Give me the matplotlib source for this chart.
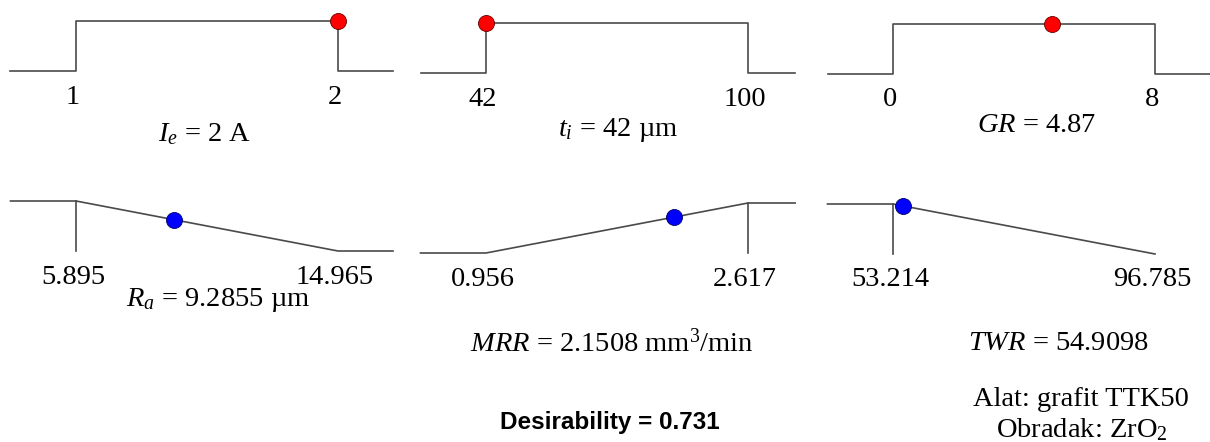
import matplotlib
matplotlib.use("Agg")
import matplotlib.pyplot as plt

plt.rcParams['font.family'] = ['Liberation Serif', 'DejaVu Serif']
plt.rcParams['mathtext.fontset'] = 'custom'
plt.rcParams['mathtext.rm'] = 'Liberation Serif'
plt.rcParams['mathtext.it'] = 'Liberation Serif:italic'

# factors (top row): low, high, optimum setting
factor_low = [1, 42, 0]
factor_high = [2, 100, 8]
factor_value = [2, 42, 4.87]
factor_low_labels = ["1", "42", "0"]
factor_high_labels = ["2", "100", "8"]
factor_titles = ["$I_e$ = 2 A", "$t_i$ = 42 µm", "$GR$ = 4.87"]

# responses (bottom row)
resp_low = [5.895, 0.956, 53.214]
resp_high = [14.965, 2.617, 96.785]
resp_value = [9.2855, 2.1508, 54.9098]
resp_goal = ["min", "max", "min"]
resp_low_labels = ["5.895", "0.956", "53.214"]
resp_high_labels = ["14.965", "2.617", "96.785"]
resp_titles = ["$R_a$ = 9.2855 µm", "$MRR$ = 2.1508 mm$^3$/min", "$TWR$ = 54.9098"]

W, H = 1210, 442
fig = plt.figure(figsize=(W / 100, H / 100), dpi=100)

low_px = [76, 486, 893]      # where the low limit sits in each column
span_px = 262
top_px = [[21, 23, 24], [201, 203, 204]]
right_ext = [0.21, 0.18, 0.25]
line_col = '#4a4a4a'
fs = 20.5


def make_ax(col, row, low, high):
    span = high - low
    left = low_px[col] - 0.25 * span_px
    y_top = top_px[row][col] - 25      # d = 1.5
    ax = fig.add_axes([left / W, 1 - (y_top + 100) / H, 1.5 * span_px / W, 100 / H])
    ax.set_xlim(low - 0.25 * span, high + 0.25 * span)
    ax.set_ylim(-0.5, 1.5)
    ax.axis('off')
    return ax


def limit_labels(ax, low, high, lo_txt, hi_txt):
    for x, t in [(low, lo_txt), (high, hi_txt)]:
        ax.annotate(t, xy=(x, 0), xytext=(-3, -26), textcoords='offset pixels',
                    ha='center', va='center', fontsize=fs, annotation_clip=False)


# top row: factor ramps
for i in range(3):
    lo, hi = factor_low[i], factor_high[i]
    s = hi - lo
    ax = make_ax(i, 0, lo, hi)
    xs = [lo - 0.25 * s, lo, lo, hi, hi, hi + right_ext[i] * s]
    ys = [0, 0, 1, 1, 0, 0]
    ax.plot(xs, ys, color=line_col, lw=1.2, clip_on=False)
    ax.plot([factor_value[i]], [1], 'o', ms=11.5, mfc='#ff0000', mec='#600000',
            mew=0.6, clip_on=False, zorder=5)
    limit_labels(ax, lo, hi, factor_low_labels[i], factor_high_labels[i])

# bottom row: response ramps
for i in range(3):
    lo, hi = resp_low[i], resp_high[i]
    s = hi - lo
    ax = make_ax(i, 1, lo, hi)
    if resp_goal[i] == "min":
        d = (hi - resp_value[i]) / s
        xs = [lo - 0.25 * s, lo, hi]
        ys = [1, 1, 0]
        if i < 2:
            xs.append(hi + right_ext[i] * s)
            ys.append(0)
        ax.plot([lo, lo], [1, 0], color=line_col, lw=1.2)
    else:
        d = (resp_value[i] - lo) / s
        xs = [lo - 0.25 * s, lo, hi, hi + right_ext[i] * s]
        ys = [0, 0, 1, 1]
        ax.plot([hi, hi], [1, 0], color=line_col, lw=1.2, clip_on=False)
    ax.plot(xs, ys, color=line_col, lw=1.2, clip_on=False)
    ax.plot([resp_value[i]], [d], 'o', ms=11.5, mfc='#0000ff', mec='#000060',
            mew=0.6, clip_on=False, zorder=5)
    limit_labels(ax, lo, hi, resp_low_labels[i], resp_high_labels[i])


def ftext(px, py, s, **kw):
    fig.text(px / W, 1 - py / H, s, ha='center', va='center', **kw)


# titles under each ramp
for (px, py), t in zip([(205, 134), (618, 130), (1037, 126)], factor_titles):
    ftext(px, py, t, fontsize=fs)
for (px, py), t in zip([(218, 300), (612, 343), (1058, 343)], resp_titles):
    ftext(px, py, t, fontsize=fs)

ftext(1081, 400, "Alat: grafit TTK50", fontsize=fs)
ftext(1082, 430, "Obradak: ZrO$_2$", fontsize=fs)
ftext(610, 422, "Desirability = 0.731", fontsize=17.5, fontweight='bold',
      family='Liberation Sans')

fig.savefig("out.png", dpi=100)
